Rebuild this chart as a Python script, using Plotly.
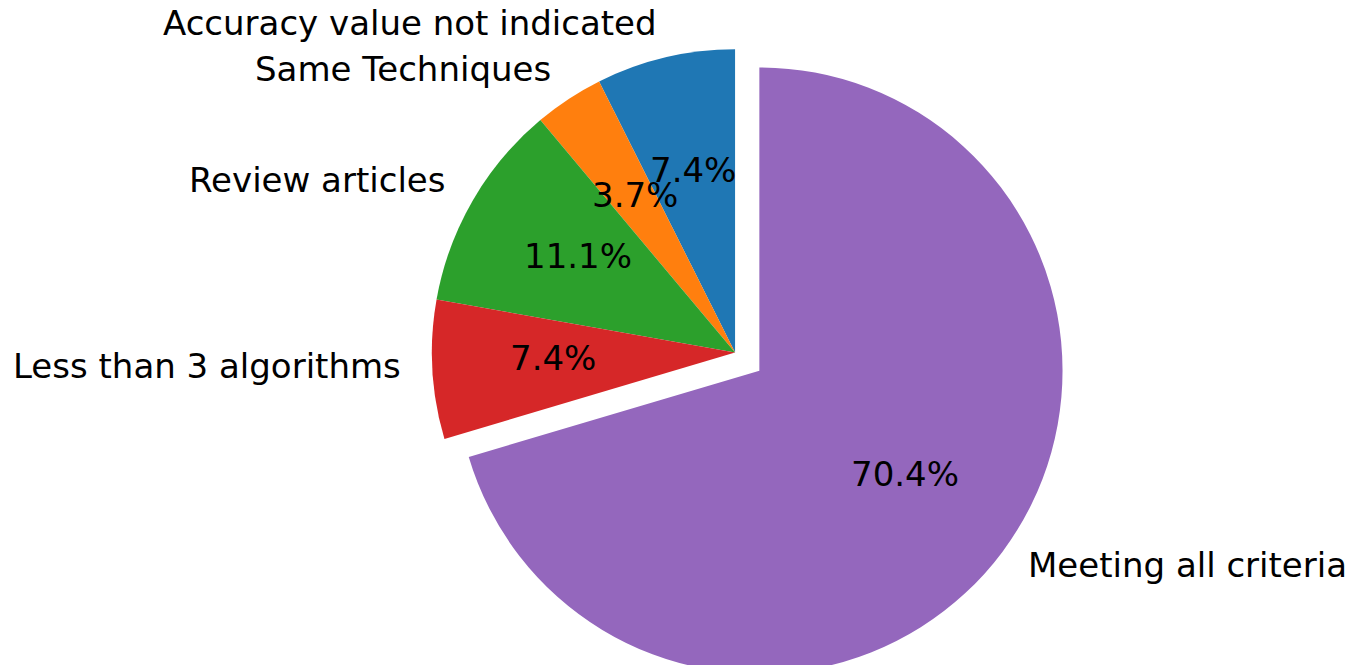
import math
import plotly.graph_objects as go

# Slice data (percent of reviewed articles), in drawing order
labels = [
    "Accuracy value not indicated",
    "Same Techniques",
    "Review articles",
    "Less than 3 algorithms",
    "Meeting all criteria",
]
shares = [7.4, 3.7, 11.1, 7.4, 70.4]
colors = ["#1f77b4", "#ff7f0e", "#2ca02c", "#d62728", "#9467bd"]
pulls = [0, 0, 0, 0, 0.1]

FONT = "DejaVu Sans"
FONT_SIZE = 34
TEXT_LIFT = 5  # raise text so the glyphs sit centred on their anchor

W, H = 1365, 686
margin = dict(l=0, r=0, t=19, b=0)
dom_x = [0.2785, 0.7985]
dom_y = [0.0, 1.0]

total = sum(shares)

# Pie geometry as plotly lays it out, used to place the text labels
plot_w = W - margin["l"] - margin["r"]
plot_h = H - margin["t"] - margin["b"]
box_w = plot_w * (dom_x[1] - dom_x[0])
box_h = plot_h * (dom_y[1] - dom_y[0])
radius = min(box_w, box_h) / 2 / (1 + max(pulls))
cx = margin["l"] + plot_w * (dom_x[0] + dom_x[1]) / 2
cy = margin["t"] + plot_h * (1 - dom_y[0]) - box_h / 2


def to_paper(px, py):
    return (px - margin["l"]) / plot_w, 1 - (py - margin["t"]) / plot_h


# first wedge begins at 12 o'clock and the wedges run counterclockwise
first_angle = shares[0] / total * 360

fig = go.Figure(
    go.Pie(
        labels=labels,
        values=shares,
        sort=False,
        direction="counterclockwise",
        rotation=-first_angle,
        pull=pulls,
        marker=dict(colors=colors, line=dict(width=0)),
        textinfo="none",
        hoverinfo="label+percent",
        showlegend=False,
        domain=dict(x=dom_x, y=dom_y),
    )
)

start = 0.0
annotations = []
for lab, val, pull in zip(labels, shares, pulls):
    mid = math.radians(90 + (start + val / 2) / total * 360)
    start += val
    ox = cx + pull * radius * math.cos(mid)
    oy = cy - pull * radius * math.sin(mid)
    # category label outside the slice
    lx, ly = to_paper(ox + 1.1 * radius * math.cos(mid), oy - 1.1 * radius * math.sin(mid))
    annotations.append(dict(
        x=lx, y=ly, xref="paper", yref="paper", text=lab, showarrow=False,
        xanchor="right" if math.cos(mid) < 0 else "left", yanchor="middle",
        yshift=TEXT_LIFT, borderpad=0,
        font=dict(family=FONT, size=FONT_SIZE, color="black"),
    ))
    # percentage inside the slice
    px_, py_ = to_paper(ox + 0.6 * radius * math.cos(mid), oy - 0.6 * radius * math.sin(mid))
    annotations.append(dict(
        x=px_, y=py_, xref="paper", yref="paper", text=f"{val:.1f}%", showarrow=False,
        xanchor="center", yanchor="middle",
        yshift=TEXT_LIFT, borderpad=0,
        font=dict(family=FONT, size=FONT_SIZE, color="black"),
    ))

fig.update_layout(
    width=W,
    height=H,
    margin=margin,
    paper_bgcolor="white",
    plot_bgcolor="white",
    font=dict(family=FONT, size=FONT_SIZE, color="black"),
    annotations=annotations,
)

fig.write_html(
    "out.html",
    post_script="document.documentElement.style.overflow='hidden';document.body.style.overflow='hidden';",
)
